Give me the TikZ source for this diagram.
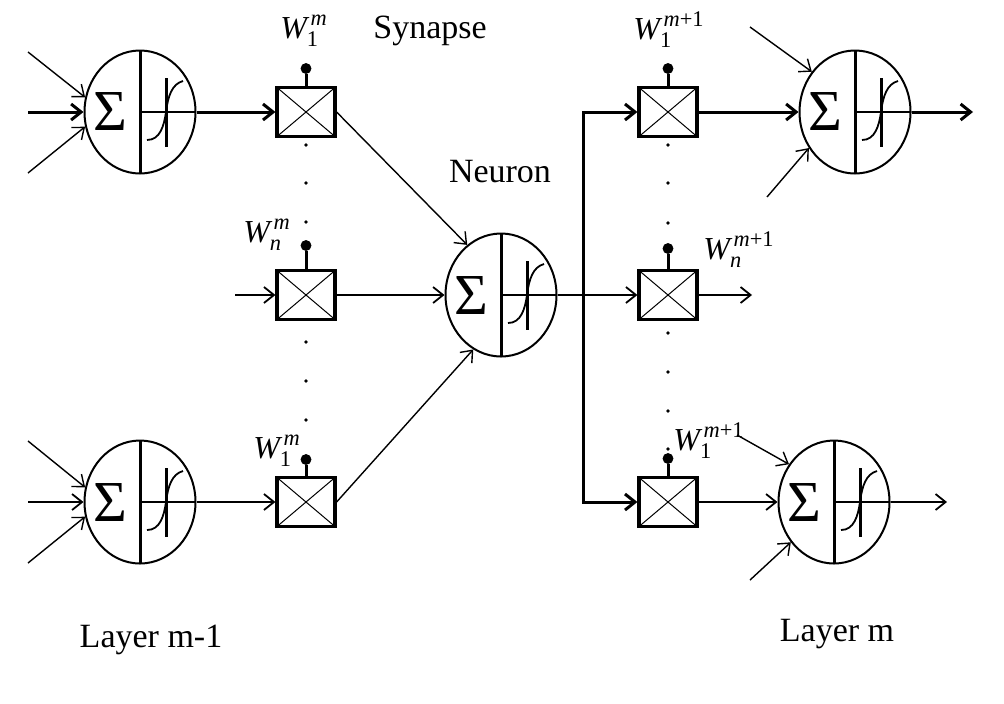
\documentclass[tikz,border=0pt]{standalone}
\usepackage{amsmath}
\usepackage{fontspec}
\setmainfont{Liberation Serif}
\usepackage{tikz}
\usetikzlibrary{positioning, shapes.geometric, arrows.meta, calc}

\begin{document}
\begin{tikzpicture}[x=0.5pt, y=-0.5pt,
                neuron/.style={draw=black, ellipse, line width=1pt, minimum width=55.5pt, minimum height=61.5pt, inner sep=0pt},
                synbox/.style={draw=black, rectangle, line width=1.6pt, minimum width=29pt, minimum height=24.5pt, inner sep=0pt,
                    path picture={\draw[line width=0.5pt] (path picture bounding box.north west) -- (path picture bounding box.south east) (path picture bounding box.south west) -- (path picture bounding box.north east);}},
                pindot/.style={draw=black, fill=black, circle, minimum size=5pt, inner sep=0pt},
                pinline/.style={line width=1.5pt},
                divider/.style={line width=1.5pt},
                wire/.style={line width=0.9pt},
                edge/.style={line width=0.9pt, -{Straight Barb[length=5pt,width=8pt]}},
                thickedge/.style={edge, line width=1.5pt},
                thinedge/.style={edge, line width=0.7pt},
                sumlabel/.style={font=\fontsize{29}{30}\selectfont, inner sep=0pt},
                wlabel/.style={font=\fontsize{16}{18}\selectfont, inner sep=1pt},
                textlabel/.style={font=\fontsize{17}{20}\selectfont, inner sep=1pt}
            ]
            \useasboundingbox (0,0) rectangle (1004,703);

            % Neuronen
            \node[neuron] (L1) at (140,112) {};
            \node[neuron] (L2) at (140,502) {};
            \node[neuron] (C) at (501,295) {};
            \node[neuron] (R1) at (855,112) {};
            \node[neuron] (R2) at (834,502) {};

            \foreach \n in {L1, L2, C, R1, R2}{
                \begin{scope}[shift={(\n.center)}]
                    \draw[divider] (0,-61.5) -- (0,61.5);
                    \node[sumlabel] (\n-sum) at (-30,0) {Σ};
                    \draw[wire] (0,0) -- (55.5,0);
                    \draw[divider] (26,-34) -- (26,35);
                    \draw[wire] (7,28) .. controls (20,28) and (24,14) .. (26,0) .. controls (28,-16) and (32,-28) .. (43,-31);
                \end{scope}
            }

            % Synapsen
            \node[synbox] (S1) at (306,112) {};
            \node[synbox] (S2) at (306,295) {};
            \node[synbox] (S3) at (306,502) {};
            \node[synbox] (T1) at (668,112) {};
            \node[synbox] (T2) at (668,295) {};
            \node[synbox] (T3) at (668,502) {};

            % Gewichte
            \node[pindot, above=6pt of S1] (S1pin) {};
            \node[pindot, above=9pt of S2] (S2pin) {};
            \node[pindot, above=5.5pt of S3] (S3pin) {};
            \node[pindot, above=6pt of T1] (T1pin) {};
            \node[pindot, above=7.5pt of T2] (T2pin) {};
            \node[pindot, above=6pt of T3] (T3pin) {};
            \foreach \s in {S1, S2, S3, T1, T2, T3}{
                \draw[pinline] (\s.north) -- (\s pin);
            }

            \node[wlabel] (S1w) at (304,31) {$\textit{W}^{\,\textit{m}}_{\textup{1}}$};
            \node[wlabel] (S2w) at (267,235) {$\textit{W}^{\,\textit{m}}_{\textit{n}}$};
            \node[wlabel] (S3w) at (277,451) {$\textit{W}^{\,\textit{m}}_{\textup{1}}$};
            \node[wlabel] (T1w) at (669,30) {$\textit{W}^{\,\textit{m}\textup{+1}}_{\textup{1}}$};
            \node[wlabel] (T2w) at (739,250) {$\textit{W}^{\,\textit{m}\textup{+1}}_{\textit{n}}$};
            \node[wlabel] (T3w) at (709,441) {$\textit{W}^{\,\textit{m}\textup{+1}}_{\textup{1}}$};

            % Punkte
            \foreach \y in {145, 183, 222, 342, 381, 420}{
                \fill (306,\y) circle[radius=0.9pt];
            }
            \foreach \y in {145, 183, 223, 333, 372, 411, 449}{
                \fill (668,\y) circle[radius=0.9pt];
            }

            % Texte
            \node[textlabel] (synlab) at (430,31) {Synapse};
            \node[textlabel] (neulab) at (500,172) {Neuron};
            \node[textlabel] (lay1) at (151,640) {Layer m-1};
            \node[textlabel] (lay2) at (837,634) {Layer m};

            % freie Enden
            \coordinate (L1in1) at (28,52);
            \coordinate (L1in2) at (28,112);
            \coordinate (L1in3) at (28,173);
            \coordinate (L2in1) at (28,441);
            \coordinate (L2in2) at (28,502);
            \coordinate (L2in3) at (28,563);
            \coordinate (S2in) at (235,295);
            \coordinate (bus) at (583,295);
            \coordinate (R1in1) at (750,27);
            \coordinate (R1in2) at (767,197);
            \coordinate (R1out) at (973,112);
            \coordinate (T2out) at (752,295);
            \coordinate (R2in1) at (737,435);
            \coordinate (R2in2) at (750,580);
            \coordinate (R2out) at (947,502);

            % Kanten
            \draw[thinedge] (L1in1) -- (L1.165);
            \draw[thickedge] (L1in2) -- (L1.west);
            \draw[thinedge] (L1in3) -- (L1.195);
            \draw[thickedge] (L1.east) -- (S1.west);
            \draw[thinedge] (S1.east) -- (C.124);
            \draw[edge] (S2in) -- (S2.west);
            \draw[edge] (S2.east) -- (C.west);
            \draw[thinedge] (L2in1) -- (L2.165);
            \draw[edge] (L2in2) -- (L2.west);
            \draw[thinedge] (L2in3) -- (L2.195);
            \draw[edge] (L2.east) -- (S3.west);
            \draw[thinedge] (S3.east) -- (C.243);
            \draw[edge] (C.east) -- (T2.west);
            \draw[thickedge] (bus |- T3.west) |- (T1.west);
            \draw[thickedge] (bus) |- (T3.west);
            \draw[thickedge] (T1.east) -- (R1.west);
            \draw[thinedge] (R1in1) -- (R1.137);
            \draw[thinedge] (R1in2) -- (R1.218);
            \draw[thickedge] (R1.east) -- (R1out);
            \draw[edge] (T2.east) -- (T2out);
            \draw[edge] (T3.east) -- (R2.west);
            \draw[thinedge] (R2in1) -- (R2.140);
            \draw[thinedge] (R2in2) -- (R2.223);
            \draw[edge] (R2.east) -- (R2out);

\end{tikzpicture}
\end{document}
